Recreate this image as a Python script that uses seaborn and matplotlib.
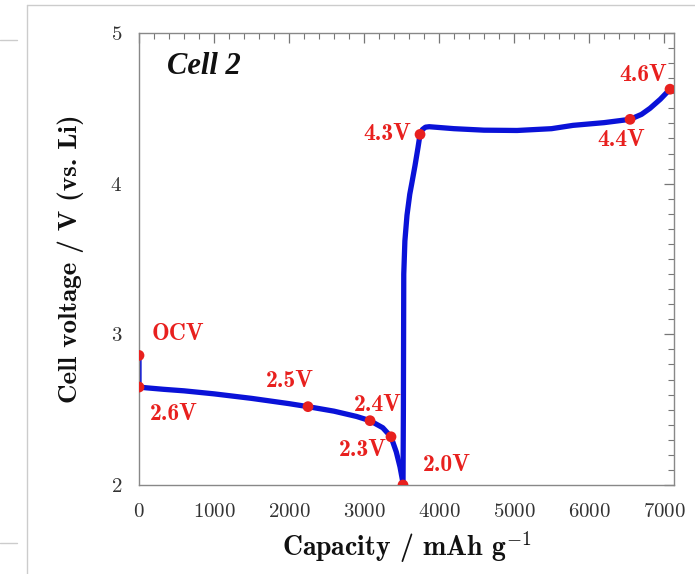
import matplotlib
matplotlib.use("Agg")
import matplotlib.pyplot as plt
import seaborn as sns
import pandas as pd
from matplotlib.lines import Line2D
from matplotlib.ticker import MultipleLocator

# ---- data ----
discharge_cap = [0, 0, 100, 330, 600, 1000, 1500, 2000, 2253, 2600, 2900, 3080, 3250, 3360, 3430, 3480, 3510, 3520]
discharge_v = [2.86, 2.65, 2.645, 2.635, 2.625, 2.605, 2.575, 2.54, 2.52, 2.49, 2.455, 2.427, 2.38, 2.32, 2.22, 2.12, 2.04, 2.0]
charge_cap = [3520, 3525, 3530, 3545, 3573, 3610, 3640, 3680, 3720, 3747, 3780, 3820, 3870, 4200, 4600, 5040, 5500, 5787, 6200, 6547, 6700, 6813, 6950, 7080]
charge_v = [2.0, 2.5, 3.4, 3.62, 3.79, 3.93, 4.01, 4.12, 4.24, 4.327, 4.36, 4.375, 4.378, 4.365, 4.355, 4.353, 4.365, 4.387, 4.405, 4.427, 4.46, 4.5, 4.56, 4.627]

point_cap = [0, 0, 2253, 3080, 3360, 3520, 3747, 6547, 7080]
point_v = [2.86, 2.65, 2.52, 2.427, 2.32, 2.0, 4.327, 4.427, 4.627]
point_labels = ["OCV", "2.6V", "2.5V", "2.4V", "2.3V", "2.0V", "4.3V", "4.4V", "4.6V"]
label_x = [173, 147, 2013, 3187, 2987, 4107, 3307, 6427, 6720]
label_y = [3.0, 2.473, 2.687, 2.533, 2.233, 2.133, 4.327, 4.293, 4.72]
label_ha = ["left", "left", "center", "center", "center", "center", "center", "center", "center"]

sns.set_theme(style="white")
plt.rcParams["font.family"] = ["cmr10", "DejaVu Serif"]
plt.rcParams["mathtext.fontset"] = "cm"
plt.rcParams["axes.formatter.use_mathtext"] = True

curve = pd.DataFrame({
    "cap": discharge_cap + charge_cap,
    "v": discharge_v + charge_v,
    "seg": ["d"] * len(discharge_cap) + ["c"] * len(charge_cap),
})
pts = pd.DataFrame({"cap": point_cap, "v": point_v})

fig = plt.figure(figsize=(6.95, 5.74), dpi=100)
ax = fig.add_axes([139 / 695, 1 - 485 / 574, (674 - 139) / 695, (485 - 33) / 574])

blue = "#0a12d8"
red = "#e8201e"
sns.lineplot(data=curve[curve.seg == "d"], x="cap", y="v", sort=False, color=blue,
             linewidth=3.8, ax=ax, estimator=None)
sns.lineplot(data=curve[curve.seg == "c"], x="cap", y="v", sort=False, color=blue,
             linewidth=3.8, ax=ax, estimator=None)
sns.scatterplot(data=pts, x="cap", y="v", color=red, s=60, edgecolor="none", ax=ax, zorder=5)

for t, x, y, ha in zip(point_labels, label_x, label_y, label_ha):
    ax.text(x, y, t, color=red, fontsize=17, family="cmb10", ha=ha, va="center")

ax.text(373, 4.775, "Cell 2", fontsize=22, family="Liberation Serif", fontweight="bold",
        fontstyle="italic", ha="left", va="center", color="#111111")

ax.set_xlim(0, 7133)
ax.set_ylim(2, 5)
ax.xaxis.set_major_locator(MultipleLocator(1000))
ax.xaxis.set_minor_locator(MultipleLocator(200))
ax.yaxis.set_major_locator(MultipleLocator(1))
ax.yaxis.set_minor_locator(MultipleLocator(0.1))
ax.tick_params(which="both", direction="in", top=True, right=True, colors="#777777",
               labelcolor="#333333", labelsize=15)
ax.tick_params(which="major", length=7, width=0.9)
ax.tick_params(which="minor", length=4, width=0.8)
ax.tick_params(axis="x", pad=13)
ax.tick_params(axis="y", pad=12)
for s in ax.spines.values():
    s.set_color("#888888")
    s.set_linewidth(1.0)

ax.set_xlabel(r"Capacity / mAh g$^{\mathrm{-1}}$", fontsize=20, family="cmb10", color="#111111", labelpad=6)
ax.set_ylabel("Cell voltage / V (vs. Li)", fontsize=19.5, family="cmb10", color="#111111", labelpad=19)

# screenshot frame remnants
fig.add_artist(Line2D([27 / 695, 27 / 695], [0, 1 - 5 / 574], transform=fig.transFigure, color="#cccccc", lw=1))
fig.add_artist(Line2D([27 / 695, 1], [1 - 5 / 574, 1 - 5 / 574], transform=fig.transFigure, color="#cccccc", lw=1))
fig.add_artist(Line2D([0, 17 / 695], [1 - 40 / 574, 1 - 40 / 574], transform=fig.transFigure, color="#cccccc", lw=1))
fig.add_artist(Line2D([0, 17 / 695], [1 - 543 / 574, 1 - 543 / 574], transform=fig.transFigure, color="#cccccc", lw=1))

fig.savefig("out.png", dpi=100)
